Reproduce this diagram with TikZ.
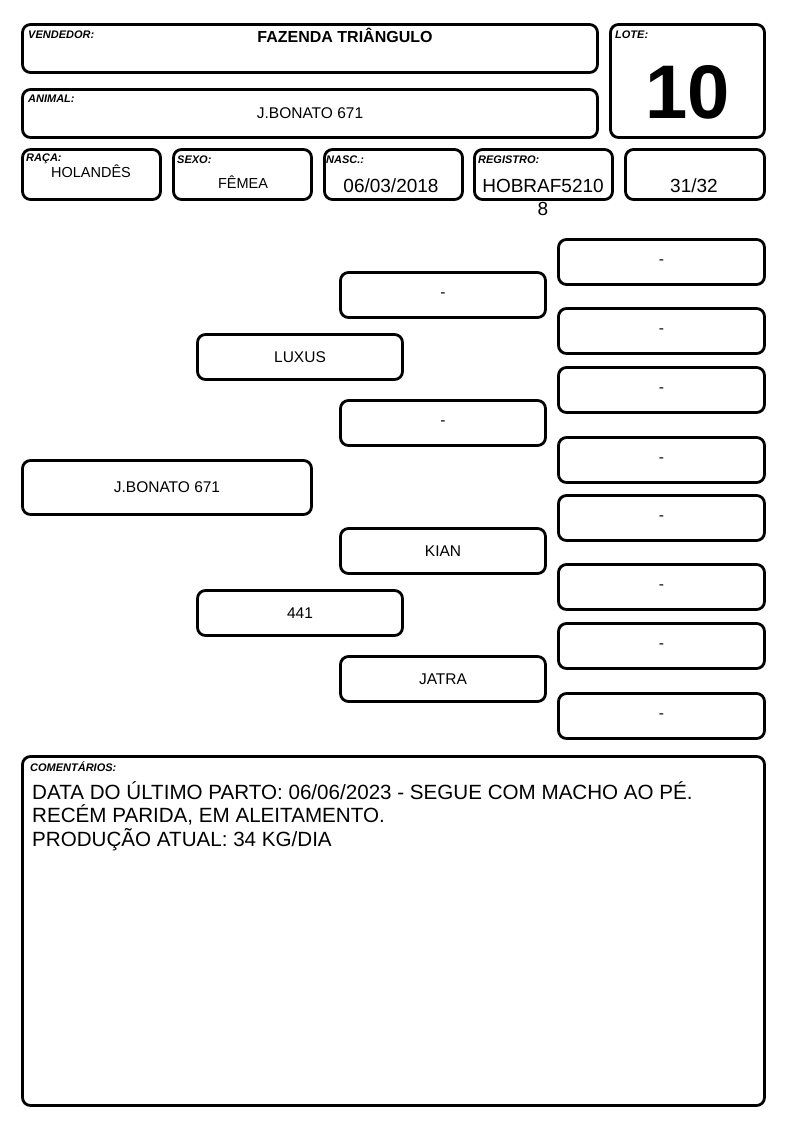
\documentclass[tikz,border=0pt]{standalone}
\usepackage{fontspec}
\setmainfont{Liberation Sans}
\usepackage{tikz}
\newcommand{\tagfont}{\fontsize{11}{13}\selectfont\bfseries\itshape}
\newcommand{\valfont}{\fontsize{15.5}{18}\selectfont}
\newcommand{\midfont}{\fontsize{14.5}{17}\selectfont}
\newcommand{\bigfont}{\fontsize{19}{23}\selectfont}

\begin{document}
\begin{tikzpicture}[
  x=1pt,y=-1pt,
  box/.style={draw=black,line width=2.8pt,rounded corners=8pt,fill=white,
              inner sep=0pt},
  pedbox/.style={box,minimum width=205pt,minimum height=45pt,
                 font=\valfont},
  tag/.style={anchor=base west,inner sep=0pt,font=\tagfont},
  val/.style={anchor=base,inner sep=0pt,align=center}
]
\useasboundingbox[fill=white] (0,0) rectangle (794,1123);

% Header: seller, animal and lot
\node[box,minimum width=575pt,minimum height=48pt] (vendor) at (310,48.5) {};
\node[tag] (vendortag) at (28,39) {VENDEDOR:};
\node[val,font=\fontsize{16}{19}\selectfont\bfseries] (vendorname) at (345,43)
  {FAZENDA TRIÂNGULO};

\node[box,minimum width=575pt,minimum height=48pt] (animal) at (310,113.5) {};
\node[tag] (animaltag) at (28,103) {ANIMAL:};
\node[val,font=\valfont] (animalname) at (310,118.5) {J.BONATO 671};

\node[box,minimum width=154pt,minimum height=113pt] (lot) at (687.5,81) {};
\node[tag] (lottag) at (615,39) {LOTE:};
\node[val,font=\fontsize{76}{80}\selectfont\bfseries] (lotnum) at (687.5,119) {10};

% Header: breed, sex, birth, register, blood grade
\node[box,minimum width=138pt,minimum height=50pt] (breed) at (91.5,174.5) {};
\node[tag] (breedtag) at (26,162) {RAÇA:};
\node[val,font=\midfont] (breedval) at (91,178) {HOLANDÊS};

\node[box,minimum width=138pt,minimum height=50pt] (sex) at (242.5,174.5) {};
\node[tag] (sextag) at (177,164) {SEXO:};
\node[val,font=\midfont] (sexval) at (243,189) {FÊMEA};

\node[box,minimum width=138pt,minimum height=50pt] (birth) at (393.5,174.5) {};
\node[tag] (birthtag) at (326,164) {NASC.:};
\node[val,font=\bigfont] (birthval) at (391,193) {06/03/2018};

\node[box,minimum width=138pt,minimum height=50pt] (register) at (543.5,174.5) {};
\node[tag] (registertag) at (478,164) {REGISTRO:};
\node[val,font=\bigfont,anchor=north] (registerval) at (543,179.5) {HOBRAF5210\\8};

\node[box,minimum width=139pt,minimum height=50pt] (grade) at (695,174.5) {};
\node[val,font=\bigfont] (gradeval) at (694,193) {31/32};

% Pedigree
\node[box,minimum width=289pt,minimum height=54pt,font=\valfont] (subject) at (167,487.5)
  {J.BONATO 671};

\node[pedbox] (sire) at (300,357) {LUXUS};
\node[pedbox] (dam) at (300,613) {441};

\node[pedbox] (sire sire) at (443,295) {-};
\node[pedbox] (sire dam) at (443,423) {-};
\node[pedbox] (dam sire) at (443,551) {KIAN};
\node[pedbox] (dam dam) at (443,679) {JATRA};

\node[pedbox,minimum width=206pt] (ss sire) at (661.5,262) {-};
\node[pedbox,minimum width=206pt] (ss dam) at (661.5,331) {-};
\node[pedbox,minimum width=206pt] (sd sire) at (661.5,390) {-};
\node[pedbox,minimum width=206pt] (sd dam) at (661.5,460) {-};
\node[pedbox,minimum width=206pt] (ds sire) at (661.5,518) {-};
\node[pedbox,minimum width=206pt] (ds dam) at (661.5,587) {-};
\node[pedbox,minimum width=206pt] (dd sire) at (661.5,646) {-};
\node[pedbox,minimum width=206pt] (dd dam) at (661.5,716) {-};

% Comments
\node[box,minimum width=742pt,minimum height=349pt] (comments) at (393.5,931) {};
\node[tag] (commentstag) at (30,771) {COMENTÁRIOS:};
\node[anchor=base west,inner sep=0pt,align=left,
      font=\fontsize{20.6}{23.5}\selectfont] (commenttext) at (32,846)
  {DATA DO ÚLTIMO PARTO: 06/06/2023 - SEGUE COM MACHO AO PÉ.\\
   RECÉM PARIDA, EM ALEITAMENTO.\\
   PRODUÇÃO ATUAL: 34 KG/DIA};
\end{tikzpicture}
\end{document}
